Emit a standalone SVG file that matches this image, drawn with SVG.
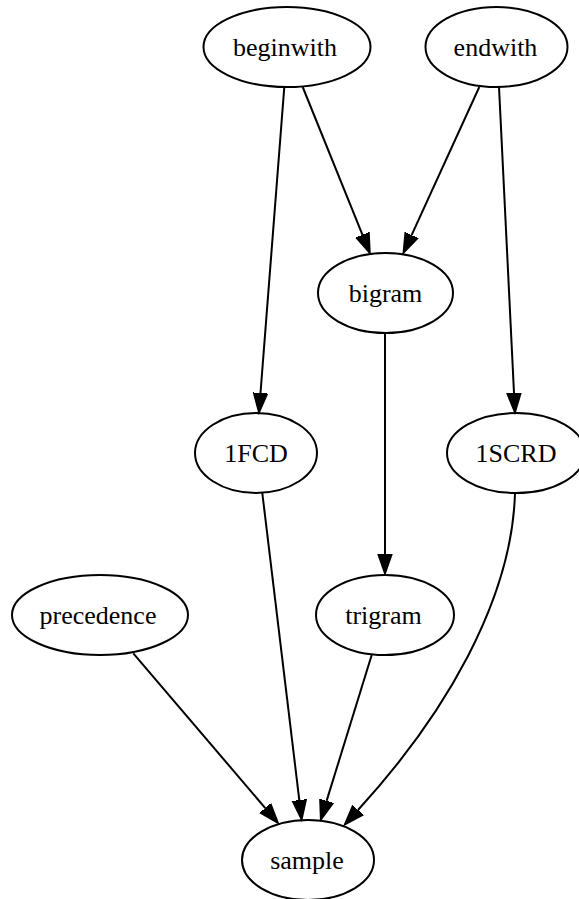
<svg xmlns="http://www.w3.org/2000/svg" width="579" height="899" viewBox="0 0 579 899">
<style>
.node ellipse{fill:none;stroke:#000;stroke-width:2}
.node text{font-family:"Liberation Serif","Times New Roman",serif;font-size:26px;text-anchor:middle;fill:#000}
.edge path{fill:none;stroke:#000;stroke-width:2;marker-end:url(#arr)}
</style>
<defs>
<marker id="arr" markerUnits="userSpaceOnUse" markerWidth="22" markerHeight="16" viewBox="0 0 22 16" refX="0" refY="8" orient="auto">
<path d="M0,1 L20,8 L0,15 z" fill="#000" stroke="#000" stroke-width="1.5"/>
</marker>
</defs>
<rect width="579" height="899" fill="#fff"/>
<g id="edges" class="edge">
<path d="M284.3,87 L260.5,393"/>
<path d="M302.7,87 L362.5,234.8"/>
<path d="M479.3,87 L411.6,235.1"/>
<path d="M499,87 L514,393"/>
<path d="M385,333 L385,554"/>
<path d="M262.3,493 L299.3,800.1"/>
<path d="M371.7,655 L326.6,800.9"/>
<path d="M133.3,653.3 L265.3,808.1"/>
<path d="M515,493 C512,600 445,715 358,810"/>
</g>
<g id="beginwith" class="node"><ellipse cx="287" cy="47" rx="83.5" ry="40"/><text x="285" y="56">beginwith</text></g>
<g id="endwith" class="node"><ellipse cx="496.5" cy="47" rx="71" ry="40"/><text x="495.5" y="56">endwith</text></g>
<g id="bigram" class="node"><ellipse cx="385.5" cy="293" rx="67.5" ry="40"/><text x="385.5" y="302">bigram</text></g>
<g id="1FCD" class="node"><ellipse cx="256" cy="453" rx="61" ry="40"/><text x="256" y="462">1FCD</text></g>
<g id="1SCRD" class="node"><ellipse cx="516" cy="453" rx="69" ry="40"/><text x="516" y="462">1SCRD</text></g>
<g id="precedence" class="node"><ellipse cx="100" cy="615" rx="88" ry="40"/><text x="98" y="624">precedence</text></g>
<g id="trigram" class="node"><ellipse cx="385" cy="615" rx="69" ry="40"/><text x="383.5" y="624">trigram</text></g>
<g id="sample" class="node"><ellipse cx="308" cy="860" rx="66" ry="40"/><text x="307" y="869">sample</text></g>
</svg>
